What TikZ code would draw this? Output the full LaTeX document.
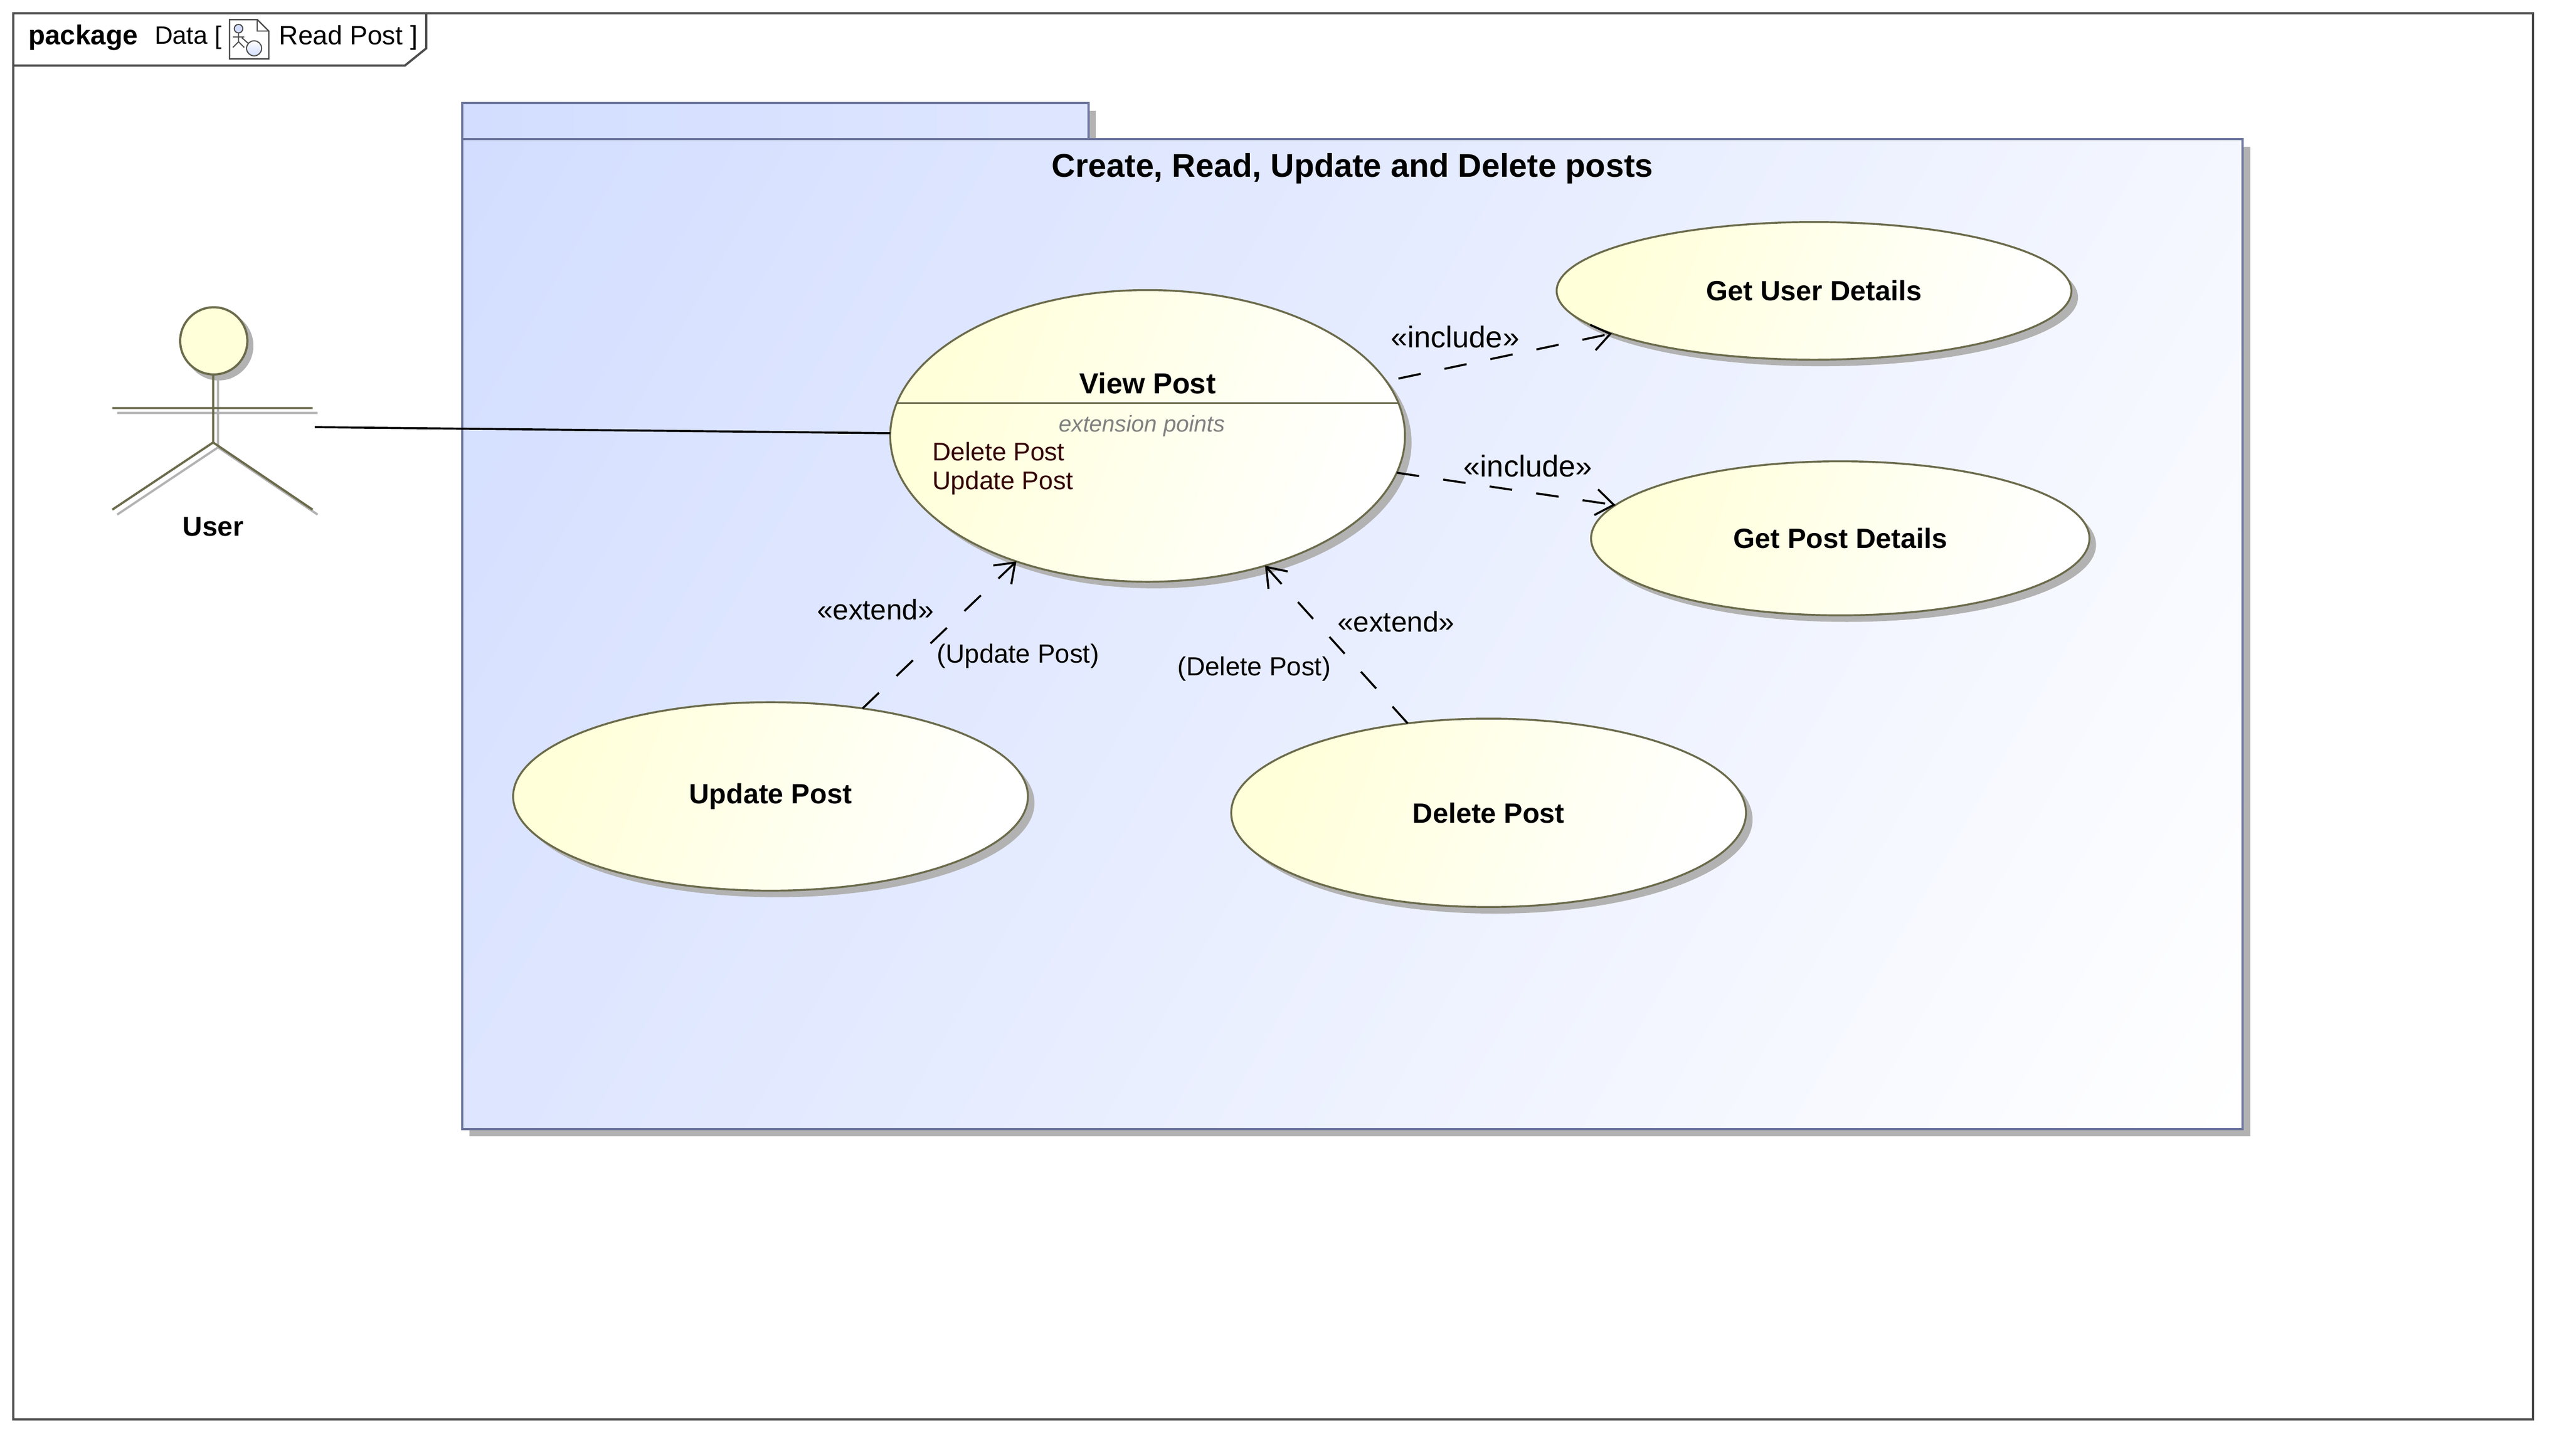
\documentclass[tikz,border=0pt]{standalone}
\usepackage{fontspec}
\setmainfont{Liberation Sans}
\usetikzlibrary{shapes.geometric,shadows,arrows.meta}
\definecolor{pkgblue}{rgb}{0.825,0.867,1}
\definecolor{pkgline}{rgb}{0.42,0.46,0.62}
\definecolor{caseyellow}{rgb}{1,1,0.85}
\definecolor{caseline}{rgb}{0.42,0.42,0.30}
\definecolor{shadowgray}{rgb}{0.70,0.70,0.70}
\definecolor{frameline}{rgb}{0.30,0.30,0.30}
\definecolor{pointtext}{rgb}{0.2,0,0}
\pgfdeclareverticalshading{pkgfade}{100bp}{color(0bp)=(white); color(15.85bp)=(white); color(84.15bp)=(pkgblue); color(100bp)=(pkgblue)}
\tikzset{
  usecase/.style={ellipse,draw=caseline,line width=0.7pt,inner sep=0pt,outer sep=0pt,
    top color=caseyellow,bottom color=white,shading angle=70,
    general shadow={fill=shadowgray,shadow xshift=2.4pt,shadow yshift=-2.4pt},
    font=\bfseries\fontsize{10.2}{12}\selectfont},
  pkgbox/.style={rectangle,draw=pkgline,line width=0.8pt,inner sep=0pt,outer sep=0pt,
    general shadow={fill=shadowgray,shadow xshift=2.7pt,shadow yshift=-2.7pt}},
  depend/.style={-{Straight Barb[length=6.5pt,width=9.5pt]},line width=0.75pt,dash pattern=on 8.3pt off 8.9pt},
  stereo/.style={inner sep=0pt,font=\fontsize{10.4}{12}\selectfont},
  includelabel/.style={inner sep=0pt,font=\fontsize{11}{12}\selectfont},
  extpoint/.style={inner sep=0pt,text=pointtext,anchor=west,font=\fontsize{9.35}{12}\selectfont},
  condlabel/.style={inner sep=0pt,font=\fontsize{9.6}{12}\selectfont},
  stick/.style={draw=caseline,line width=0.8pt},
  stickshadow/.style={draw=shadowgray,line width=0.8pt}
}
\begin{document}
\begin{tikzpicture}[x=0.6pt,y=0.6pt,yscale=-1]
\useasboundingbox (0,0) rectangle (1567,888.4);

%Shape: Frame
\draw [frameline,line width=0.8pt] (8,8) rectangle (1545,866);
\draw [frameline,line width=0.8pt] (260,8) -- (260,29.5) -- (247,40) -- (8,40);
% Text Node
\node (framekind) [anchor=west,inner sep=0pt,font=\bfseries\fontsize{10}{12}\selectfont] at (17,23) {package};
\node (framename) [anchor=west,inner sep=0pt,font=\fontsize{9.2}{12}\selectfont] at (94,23) {Data [};
\node (framediagram) [anchor=west,inner sep=0pt,font=\fontsize{9.7}{12}\selectfont] at (170,23) {Read Post ]};

%Shape: Diagram icon
\draw [frameline,line width=0.5pt,fill=white] (140,12) -- (157,12) -- (164,19) -- (164,36) -- (140,36) -- cycle;
\draw [frameline,line width=0.4pt] (157,12) -- (157,19) -- (164,19);
\draw [frameline,line width=0.4pt,fill=pkgblue] (145.5,17.5) circle (2.6);
\draw [frameline,line width=0.4pt] (145.5,20) -- (145.5,25.5) (142,22.5) -- (149,22.5) (142,29) -- (145.5,25.5) -- (149,29) (147.5,23) -- (152,27);
\draw [frameline,line width=0.4pt,top color=white,bottom color=pkgblue] (155,29.5) circle (4.6);

%Shape: Package
\node (pkgtab) [pkgbox,minimum width=229.2pt,minimum height=13.2pt,left color=pkgblue,right color=pkgblue!73!white] at (473,74) {};
\node (pkgbody) [pkgbox,minimum width=651.6pt,minimum height=362.4pt,shade,shading=pkgfade,shading angle=60] at (825,387) {};
% Text Node
\node (pkgtitle) [inner sep=0pt,font=\bfseries\fontsize{12}{14}\selectfont] at (825,103) {Create, Read, Update and Delete posts};

%Shape: Actor
\node (actor) [rectangle,minimum width=74.4pt,minimum height=87.6pt,inner sep=0pt,outer sep=0pt] at (130,260) {};
\draw [stickshadow,fill=shadowgray] (133.4,211) circle (20.5);
\draw [stickshadow] (133,231) -- (133,273) (71.5,252) -- (193.7,252) (71.5,314) -- (133,273) -- (193.7,314);
\draw [stick] (130,228) -- (130,270) (68.5,249) -- (190.7,249) (68.5,311) -- (130,270) -- (190.7,311);
\draw [stick,fill=caseyellow] (130.4,208) circle (20.5);
% Text Node
\node (username) [inner sep=0pt,font=\bfseries\fontsize{10}{12}\selectfont] at (130,321.5) {User};

%Shape: Use cases
\node (viewpost) [usecase,minimum width=188.4pt,minimum height=106.8pt] at (700,266) {};
\draw [caseline,line width=0.7pt] (547,246) -- (853,246);
\node (getuser) [usecase,minimum width=188.4pt,minimum height=50.4pt] at (1106.5,177.5) {Get User Details};
\node (getpost) [usecase,minimum width=182.4pt,minimum height=56.4pt] at (1122.5,328.5) {Get Post Details};
\node (updatepost) [usecase,minimum width=188.4pt,minimum height=69pt] at (470,486) {Update Post};
\node (deletepost) [usecase,minimum width=188.4pt,minimum height=69pt] at (908,496) {Delete Post};
\coordinate (viewinclude) at (853,231);
% Text Node
\node (viewtitle) [inner sep=0pt,font=\bfseries\fontsize{10.6}{12}\selectfont] at (700,234) {View Post};
\node (exttitle) [inner sep=0pt,text=gray,font=\itshape\fontsize{8.4}{10}\selectfont] at (696.5,260) {extension points};
\node (deletepoint) [extpoint] at (568.5,275.5) {Delete Post};
\node (updatepoint) [extpoint] at (568.5,294.5) {Update Post};

%Connectors
\draw [line width=0.75pt] (actor) -- (viewpost);
\draw [depend] (viewinclude) -- (getuser);
\draw [depend] (viewpost) -- (getpost);
\draw [depend] (updatepost) -- (viewpost);
\draw [depend] (deletepost) -- (viewpost);

% Text Node
\node (includeuser) [includelabel] at (887.5,205.5) {«include»};
\node (includepost) [includelabel] at (932,284.5) {«include»};
\node (extendupdate) [stereo] at (534,372) {«extend»};
\node (extenddelete) [stereo] at (851.5,379.5) {«extend»};
\node (updatecond) [condlabel] at (621,400.5) {(Update Post)};
\node (deletecond) [condlabel] at (765,408) {(Delete Post)};
\end{tikzpicture}
\end{document}
